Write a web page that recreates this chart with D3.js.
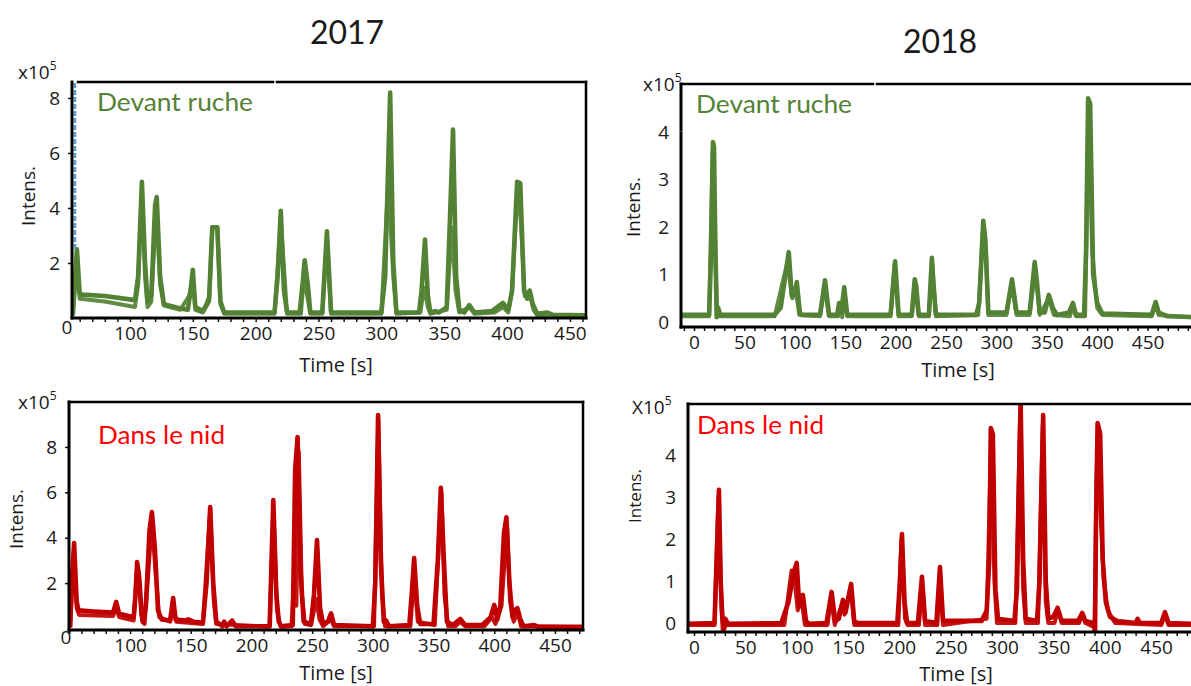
<!DOCTYPE html>
<html>
<head>
<meta charset="utf-8">
<script src="https://cdn.jsdelivr.net/npm/d3@7"></script>
<style>
  body { margin: 0; background: #fff; }
  text { font-family: "Open Sans", sans-serif; fill: #1a1a1a; }
</style>
</head>
<body>
<svg id="fig" width="1191" height="686"></svg>
<script>
// ---- data: [time (s), intensity (x10^5)] ----
const ruche2017A = [[54.5,0.1],[57.8,2.5],[60,0.9],[62,0.85],[80,0.8],[104,0.65],[106.5,1.5],[109.5,4.95],[112,2.0],[114,0.6],[117,0.8],[120,4.1],[121.3,4.4],[124,1.5],[127,0.5],[140,0.35],[146,0.3],[148,0.9],[150,1.75],[152,0.4],[158,0.25],[161,0.5],[163,0.75],[165.5,3.3],[169.5,3.3],[172,0.6],[175,0.2],[215,0.2],[217.5,1.5],[220,3.9],[222.5,1.0],[225,0.2],[235,0.2],[237.5,1.3],[239,2.1],[241.5,1.2],[243.5,0.2],[253,0.2],[256.7,3.15],[260,0.2],[300,0.2],[303,1.5],[307,8.2],[309.5,2.0],[312,0.2],[330,0.2],[332,1.0],[334.7,2.85],[337,0.8],[339,0.2],[343,0.25],[346,0.2],[352,0.4],[354.5,3.5],[357,6.85],[359.5,1.5],[362,0.3],[366,0.2],[370,0.47],[374,0.2],[388,0.25],[396.7,0.55],[401,0.3],[404,1.0],[408,4.95],[410.5,4.9],[413.5,1.0],[416,0.7],[418,1.0],[420.5,0.5],[424,0.15],[432,0.2],[436,0.12],[463,0.1]];
const ruche2017B = [[54.5,0.1],[57.5,2.0],[60,0.7],[80,0.6],[104,0.4],[106.5,1.2],[109.5,4.7],[112,1.5],[114,0.4],[117,0.6],[121,4.1],[124,1.2],[127,0.45],[140,0.3],[147,0.8],[150,1.4],[152,0.3],[158,0.2],[163,0.6],[165.5,3.3],[169.5,3.3],[172,0.5],[175,0.15],[215,0.15],[220,3.5],[225,0.15],[236,0.15],[238.5,1.6],[241,0.8],[243.5,0.15],[253,0.15],[256.7,2.9],[260,0.15],[300,0.15],[305.5,4.95],[309.5,1.5],[312,0.15],[331,0.2],[334,1.1],[337,0.4],[339,0.15],[352,0.3],[356,3.3],[359,1.0],[362,0.2],[370,0.4],[374,0.15],[390,0.2],[396.7,0.4],[401,0.2],[404,1.0],[408.5,4.8],[411,3.5],[414,0.8],[418,0.9],[421,0.3],[424,0.1],[463,0.1]];

const ruche2018A = [[-13,0.15],[15,0.15],[17,1.5],[18.8,3.79],[19.8,3.7],[21,1.9],[22.5,0.1],[24,0.3],[26,0.15],[80,0.15],[86,0.3],[94,1.47],[97,0.55],[100,0.6],[102,0.84],[105,0.2],[107,0.15],[125,0.15],[130,0.88],[134,0.15],[142,0.15],[144,0.4],[146,0.2],[149,0.73],[152,0.15],[195,0.15],[199.5,1.28],[203,0.15],[216,0.15],[219,0.9],[220.5,0.75],[223,0.15],[233,0.15],[236,1.35],[237.5,0.8],[240,0.15],[280,0.15],[283,0.4],[287,2.13],[289,1.73],[292,0.2],[310,0.2],[315.5,0.9],[320,0.2],[333,0.2],[338,1.26],[340,0.9],[343,0.2],[348,0.2],[352,0.57],[356,0.3],[360,0.15],[372,0.2],[376,0.4],[379,0.15],[387,0.15],[389,1.5],[391,4.71],[393,4.6],[396,1.0],[400,0.4],[405,0.18],[454,0.15],[458,0.42],[461,0.2],[470,0.12],[505,0.1]];
const ruche2018B = [[-13,0.12],[15,0.12],[18.5,3.6],[20.5,1.8],[23,0.12],[80,0.12],[92,1.2],[95,0.9],[97.5,0.5],[101,0.65],[104.5,0.15],[125,0.12],[129.5,0.75],[134,0.12],[143,0.12],[145,0.35],[147,0.1],[149.5,0.6],[152,0.12],[195,0.12],[199,1.2],[203,0.12],[216,0.12],[219,0.8],[223,0.12],[233,0.12],[236.5,1.2],[240,0.12],[282,0.15],[286.5,1.9],[289.5,1.6],[292,0.15],[310,0.15],[315,0.8],[320,0.15],[333,0.15],[338.5,1.1],[343,0.15],[352,0.5],[357,0.15],[373,0.12],[376,0.35],[379,0.12],[388,0.12],[391.5,4.6],[395,1.5],[400,0.3],[405,0.15],[454,0.12],[458,0.35],[461,0.15],[505,0.08]];

const nid2017A = [[50.6,0.05],[52,2.0],[53.9,3.77],[56,1.2],[57.5,0.8],[70,0.75],[86,0.7],[88.6,1.17],[91,0.65],[103,0.5],[104.5,1.5],[105.8,2.93],[107.5,2.3],[109.5,0.6],[111,0.3],[113,1.0],[116,4.3],[118,5.13],[120.5,3.5],[123,0.8],[126,0.4],[133,0.35],[135.5,1.34],[137.5,0.4],[146,0.35],[148,0.4],[152,0.3],[160,0.25],[163,2.0],[166,5.35],[168.5,2.0],[171,0.3],[176,0.1],[177.5,0.3],[179.5,0.1],[184,0.35],[187,0.1],[215,0.1],[218,5.66],[220.5,1.5],[222.5,0.3],[224.5,0.1],[234,0.15],[236,7.0],[238,8.44],[240.5,2.5],[243,0.3],[249,0.2],[251.5,1.5],[254,3.9],[256.5,0.9],[259,0.2],[263,0.3],[265.6,0.67],[268,0.15],[300,0.1],[302,2.0],[304.3,9.4],[306.5,3.0],[309,0.3],[311,0.35],[313,0.1],[330,0.15],[332,1.5],[334,3.1],[336.5,1.0],[339,0.2],[350,0.2],[353.5,3.0],[356,6.2],[358.5,3.0],[361,0.3],[366,0.15],[372,0.42],[376,0.15],[390,0.15],[397,0.5],[400,1.04],[402.5,0.4],[405,1.0],[408,4.2],[410,4.9],[412.5,2.0],[415,0.5],[417,0.8],[419,0.9],[421.5,0.4],[424,0.1],[433,0.15],[436,0.08],[473,0.08]];
const nid2017B = [[50.6,0.05],[53.5,3.3],[56,0.9],[58,0.6],[86,0.55],[88.6,0.9],[91,0.5],[103,0.35],[105.5,2.5],[108,1.6],[110,0.3],[112,0.2],[118,4.7],[121,2.5],[124,0.5],[133,0.3],[135.5,1.1],[138,0.3],[160,0.2],[166,5.2],[169,1.2],[171,0.2],[215,0.08],[218,5.3],[221,0.8],[224,0.08],[233,0.1],[235.5,2.6],[237,1.0],[239,7.8],[241.5,1.5],[244,0.2],[249,0.15],[253.5,1.3],[256,0.4],[259,0.1],[265.5,0.4],[268,0.1],[301,0.1],[304.5,9.2],[307.5,1.5],[310,0.1],[331,0.1],[334,2.4],[337,0.3],[351,0.15],[356.5,6.0],[359,1.5],[362,0.1],[368,0.1],[372,0.3],[376,0.1],[392,0.1],[398,0.5],[401,0.2],[406,1.0],[410.5,4.6],[413,1.2],[416,0.3],[419.5,0.7],[422,0.1],[473,0.05]];

const nid2018A = [[-6,-0.02],[20,0],[22,1.5],[24.3,3.17],[26,1.0],[27.5,0.2],[29,-0.15],[30.5,0.1],[33,-0.02],[85,0],[92,0.5],[97,1.2],[100,1.43],[102.5,0.4],[106,0.67],[109,0.05],[112,-0.02],[129,0],[134,0.74],[137.5,0.05],[141,0.1],[145,0.55],[147.5,0.25],[153,0.93],[156,0.05],[159,0],[198,0],[200.5,1.0],[202.5,2.12],[205,0.5],[207.5,0],[218,0],[222,1.1],[225,0.05],[236,0],[239.5,1.33],[242.5,0.05],[280,0.05],[285,0.3],[287.5,1.5],[289,4.64],[291,4.5],[293.5,0.8],[296,0.1],[312,0.05],[314.5,0.8],[318,5.3],[320.5,1.5],[323,0.1],[334,0.05],[336.5,1.0],[340,4.95],[342.5,1.0],[345,0.1],[350,0.15],[354,0.36],[358,0.05],[374,0.05],[378,0.24],[381,0.05],[389,0],[390.5,-0.2],[391.5,2.5],[393,4.76],[395.5,4.5],[398,1.5],[401,0.5],[405,0.15],[412,0.05],[430,0],[432,0.1],[434,0],[455,0],[458.6,0.26],[462,0],[495,-0.03]];
const nid2018B = [[-6,-0.05],[20,-0.05],[23.8,3.0],[26.5,0.5],[28,-0.2],[31,-0.05],[88,-0.05],[95,1.25],[98,1.0],[101,0.3],[104.5,0.6],[108,-0.05],[130,-0.05],[133.5,0.6],[137,-0.05],[144,0.45],[146.5,0.2],[152.5,0.85],[156,-0.05],[199,-0.05],[202,2.0],[205.5,0.1],[208,-0.05],[219,-0.05],[222.5,0.9],[225,-0.05],[237,-0.05],[239.5,1.2],[242.5,-0.05],[285,0.1],[289.5,4.5],[292.5,1.0],[295,0],[313,0],[317.5,4.9],[320.5,0.8],[323,0],[335,0],[339.5,4.7],[342.5,0.5],[345,0],[351,0],[354.5,0.3],[358,0],[375,0],[378,0.2],[381,0],[390,-0.1],[392,3.5],[393.5,4.6],[396,2.5],[399,1.0],[403,0.3],[410,0],[455,-0.05],[458.5,0.2],[462,-0.05],[495,-0.05]];

const yTicks2017 = [2, 4, 6, 8];
const yTicks2018 = [0, 1, 2, 3, 4];
const xTicks2017 = [100, 150, 200, 250, 300, 350, 400, 450];
const xTicks2018 = [0, 50, 100, 150, 200, 250, 300, 350, 400, 450];

const GREEN = "#548235";
const RED = "#c00000";

const svg = d3.select("#fig");

// column titles
svg.append("text").attr("x", 347).attr("y", 44).attr("text-anchor", "middle")
  .style("font-family", "Lato, sans-serif").style("font-size", "32px").text("2017");
svg.append("text").attr("x", 940).attr("y", 53).attr("text-anchor", "middle")
  .style("font-family", "Lato, sans-serif").style("font-size", "32px").text("2018");

const panels = [
  { id: "p1", left: 72, top: 82, right: 586, bottom: 318,
    xDomain: [53.9, 462.8], yDomain: [0, 8.58],
    xTicks: xTicks2017, yTicks: yTicks2017, yTickMarks: true,
    traces: [ruche2017B, ruche2017A], color: GREEN,
    label: "Devant ruche", labelColor: "#548235", labelX: 97, labelY: 111, labelW: 156,
    exp: "x10", expX: 18, expY: 79, intensX: 35, intensY: 196, intensSize: 19,
    timeX: 336, timeY: 372, zero: [67, 334],
    segs: [[72,82,72,318,3],[78,82,273,82,2.5],[277,82,586,82,2.5],[586,82,586,318,2.5],[72,318,586,318,3]],
    dashed: [75, 83, 250] },
  { id: "p2", left: 681, top: 84, right: 1200, bottom: 327,
    xDomain: [-12.9, 502], yDomain: [-0.105, 5.01],
    xTicks: xTicks2018, yTicks: yTicks2018, yTickMarks: false,
    traces: [ruche2018B, ruche2018A], color: GREEN,
    label: "Devant ruche", labelColor: "#548235", labelX: 696, labelY: 113, labelW: 156,
    exp: "x10", expX: 643, expY: 91, intensX: 640, intensY: 207, intensSize: 19,
    timeX: 958, timeY: 377, zero: null,
    segs: [[681,84,681,130,3],[681,133,681,327,3],[681,84,873,84,2.5],[877,84,1191,84,2.5],[681,327,1191,327,3]],
    dashed: null },
  { id: "p3", left: 69, top: 402, right: 583, bottom: 630,
    xDomain: [49.7, 473.1], yDomain: [-0.066, 9.98],
    xTicks: xTicks2017, yTicks: yTicks2017, yTickMarks: true,
    traces: [nid2017B, nid2017A], color: RED,
    label: "Dans le nid", labelColor: "#ff0000", labelX: 98, labelY: 444, labelW: 127,
    exp: "x10", expX: 18, expY: 409, intensX: 23, intensY: 519, intensSize: 19,
    timeX: 336, timeY: 680, zero: [66, 644],
    segs: [[69,402,69,630,3],[69,402,583,402,2.5],[583,402,583,630,2.5],[69,630,583,630,3]],
    dashed: null },
  { id: "p4", left: 688, top: 404, right: 1200, bottom: 632,
    xDomain: [-5.84, 492.7], yDomain: [-0.214, 5.214],
    xTicks: xTicks2018, yTicks: yTicks2018, yTickMarks: false,
    traces: [nid2018B, nid2018A], color: RED,
    label: "Dans le nid", labelColor: "#ff0000", labelX: 697, labelY: 434, labelW: 127,
    exp: "X10", expX: 632, expY: 414, intensX: 641, intensY: 496, intensSize: 17,
    timeX: 956, timeY: 681, zero: null,
    segs: [[688,404,688,632,3],[688,404,1191,404,2.5],[688,632,1191,632,3]],
    dashed: null }
];

function drawPanel(p) {
  const g = svg.append("g").attr("id", p.id);
  const x = d3.scaleLinear().domain(p.xDomain).range([p.left, p.right]);
  const y = d3.scaleLinear().domain(p.yDomain).range([p.bottom, p.top]);

  g.append("clipPath").attr("id", "clip-" + p.id)
    .append("rect")
    .attr("x", p.left).attr("y", p.top)
    .attr("width", p.right - p.left).attr("height", p.bottom - p.top);

  const line = d3.line().x(d => x(d[0])).y(d => y(d[1]));

  g.append("g").attr("clip-path", `url(#clip-${p.id})`)
    .selectAll("path")
    .data(p.traces)
    .join("path")
    .attr("d", line)
    .attr("fill", "none")
    .attr("stroke", p.color)
    .attr("stroke-width", (d, i) => i === 0 ? 4 : 4.6)
    .attr("stroke-linejoin", "round")
    .attr("opacity", (d, i) => i === 0 ? 0.92 : 1);

  // dashed marker line (only on first panel)
  if (p.dashed) {
    g.append("line")
      .attr("x1", p.dashed[0]).attr("x2", p.dashed[0])
      .attr("y1", p.dashed[1]).attr("y2", p.dashed[2])
      .attr("stroke", "#5b9bd5").attr("stroke-width", 2.5)
      .attr("stroke-dasharray", "5,2");
  }

  // minor ticks every 10 s
  const minor = d3.range(Math.ceil(p.xDomain[0] / 10) * 10, p.xDomain[1], 10);
  g.append("g")
    .attr("transform", `translate(0,${p.bottom})`)
    .call(d3.axisBottom(x).tickValues(minor).tickSize(4).tickFormat(""))
    .call(a => a.select(".domain").remove())
    .call(a => a.selectAll("line").attr("stroke", "#111").attr("stroke-width", 1.5));

  // major labels
  g.append("g")
    .attr("transform", `translate(0,${p.bottom})`)
    .call(d3.axisBottom(x).tickValues(p.xTicks).tickSize(0).tickPadding(9).tickFormat(d3.format("d")))
    .call(a => a.select(".domain").remove())
    .call(a => a.selectAll("text")
      .style("font-family", "Open Sans, sans-serif")
      .style("font-size", "19px").attr("fill", "#1a1a1a"));

  // y axis
  g.append("g")
    .attr("transform", `translate(${p.left},0)`)
    .call(d3.axisLeft(y).tickValues(p.yTicks).tickFormat(d3.format("d"))
      .tickSize(p.yTickMarks ? 4 : 0).tickPadding(p.yTickMarks ? 8 : 12))
    .call(a => a.select(".domain").remove())
    .call(a => a.selectAll("line").attr("stroke", "#111").attr("stroke-width", 1.5))
    .call(a => a.selectAll("text")
      .style("font-family", "Open Sans, sans-serif")
      .style("font-size", "19px").attr("fill", "#1a1a1a"));

  if (p.zero) {
    g.append("text").attr("x", p.zero[0]).attr("y", p.zero[1])
      .attr("text-anchor", "middle").style("font-size", "19px").text("0");
  }

  // frame
  g.selectAll("line.frame")
    .data(p.segs)
    .join("line")
    .attr("class", "frame")
    .attr("x1", d => d[0]).attr("y1", d => d[1])
    .attr("x2", d => d[2]).attr("y2", d => d[3])
    .attr("stroke", "#000").attr("stroke-width", d => d[4])
    .attr("stroke-linecap", "square");

  // panel label
  g.append("text")
    .attr("x", p.labelX).attr("y", p.labelY)
    .attr("textLength", p.labelW).attr("lengthAdjust", "spacingAndGlyphs")
    .style("font-family", "Lato, sans-serif").style("font-size", "25px")
    .style("fill", p.labelColor)
    .text(p.label);

  // x10^5
  const e = g.append("text").attr("x", p.expX).attr("y", p.expY)
    .style("font-size", "19px");
  e.append("tspan").text(p.exp);
  e.append("tspan").attr("dy", -9).style("font-size", "12px").text("5");

  // axis titles
  g.append("text")
    .attr("transform", `translate(${p.intensX},${p.intensY}) rotate(-90)`)
    .attr("text-anchor", "middle")
    .style("font-size", p.intensSize + "px")
    .text("Intens.");
  g.append("text")
    .attr("x", p.timeX).attr("y", p.timeY)
    .attr("text-anchor", "middle")
    .style("font-size", "20px")
    .text("Time [s]");
}

panels.forEach(drawPanel);
</script>
</body>
</html>
